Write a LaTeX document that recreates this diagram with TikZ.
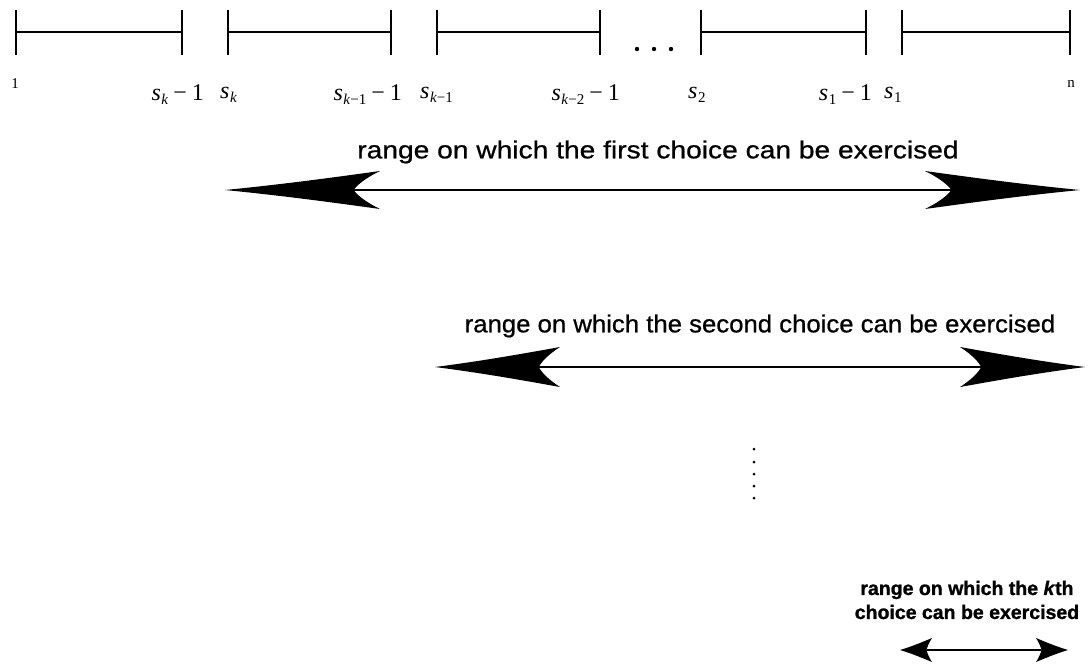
\documentclass[tikz,border=0pt]{standalone}
\usepackage{fontspec}
\setmainfont{Liberation Serif}
\newfontfamily\capsans[FakeStretch=1.15,FakeBold=0.8]{Liberation Sans}
\newfontfamily\capsansb[FakeStretch=1.05,FakeBold=0.8]{Liberation Sans}
\newfontfamily\heavysans[FakeBold=1.2]{Liberation Sans Bold}
\usetikzlibrary{arrows.meta}

% swept-back dart head: tip at the path end, barbs behind a concave notch
\pgfdeclarearrow{
  name = Dart,
  defaults = {length = 20pt, width = 8pt},
  parameters = {\the\pgfarrowlength,\the\pgfarrowwidth},
  setup code = {
    \pgfarrowssettipend{\pgfarrowlength}
    \pgfarrowssetbackend{0pt}
    \pgfarrowssetlineend{.17\pgfarrowlength}
    \pgfarrowssavethe\pgfarrowlength
    \pgfarrowssavethe\pgfarrowwidth
  },
  drawing code = {
    \pgfpathmoveto{\pgfpoint{\pgfarrowlength}{0pt}}
    \pgfpathcurveto{\pgfpoint{.6*\pgfarrowlength}{.16*\pgfarrowwidth}}{\pgfpoint{.25*\pgfarrowlength}{.36*\pgfarrowwidth}}{\pgfpoint{0pt}{.5*\pgfarrowwidth}}
    \pgfpathcurveto{\pgfpoint{.1*\pgfarrowlength}{.3*\pgfarrowwidth}}{\pgfpoint{.15*\pgfarrowlength}{.12*\pgfarrowwidth}}{\pgfpoint{.17*\pgfarrowlength}{0pt}}
    \pgfpathcurveto{\pgfpoint{.15*\pgfarrowlength}{-.12*\pgfarrowwidth}}{\pgfpoint{.1*\pgfarrowlength}{-.3*\pgfarrowwidth}}{\pgfpoint{0pt}{-.5*\pgfarrowwidth}}
    \pgfpathcurveto{\pgfpoint{.25*\pgfarrowlength}{-.36*\pgfarrowwidth}}{\pgfpoint{.6*\pgfarrowlength}{-.16*\pgfarrowwidth}}{\pgfpoint{\pgfarrowlength}{0pt}}
    \pgfpathclose
    \pgfusepathqfill
  }
}

% s with a lowered index
\newcommand{\sidx}[1]{\textit{s}\kern.5pt\raisebox{-.35ex}{\fontsize{15}{15}\selectfont #1}}
\newcommand{\mns}{\hspace{5pt}−\hspace{5pt}}

\begin{document}
\begin{tikzpicture}[x=1pt,y=-1pt,
  seg/.style={line width=1.6pt, arrows={Bar[width=45pt]-Bar[width=45pt]}},
  lbl/.style={inner sep=0pt, font=\fontsize{24}{24}\selectfont},
  endlbl/.style={inner sep=0pt, font=\fontsize{15}{15}\selectfont},
  rangetxt/.style={inner sep=0pt, align=center},
  rangeA/.style={line width=1.3pt, arrows={Dart[length=155pt,width=38pt]-Dart[length=155pt,width=38pt]}},
  rangeB/.style={line width=1.3pt, arrows={Dart[length=125pt,width=40pt]-Dart[length=125pt,width=40pt]}},
  rangeC/.style={line width=1.3pt, arrows={Dart[length=32pt,width=24pt]-Dart[length=32pt,width=24pt]}},
  dot/.style={fill=black, draw=none}
]
\useasboundingbox (0,0) rectangle (1090,665);

% interval end points
\coordinate (a1) at (15,32);   \coordinate (b1) at (183,32);
\coordinate (a2) at (227,32);  \coordinate (b2) at (392,32);
\coordinate (a3) at (436,32);  \coordinate (b3) at (601,32);
\coordinate (a4) at (700,32);  \coordinate (b4) at (867,32);
\coordinate (a5) at (901,32);  \coordinate (b5) at (1071,32);

\draw[seg] (a1) -- (b1);
\draw[seg] (a2) -- (b2);
\draw[seg] (a3) -- (b3);
\draw[seg] (a4) -- (b4);
\draw[seg] (a5) -- (b5);

% ellipsis between the intervals
\fill[dot] (637,49) circle (2.2pt);
\fill[dot] (654,49) circle (2.2pt);
\fill[dot] (671,49) circle (2.2pt);

% position labels
\node[endlbl] (l1) at (15,84) {1};
\node[endlbl] (ln) at (1071,84) {n};
\node[lbl, anchor=east] (lb1) at (204,95) {\sidx{\textit{k}}\mns 1};
\node[lbl, anchor=west] (la2) at (220,95) {\sidx{\textit{k}}};
\node[lbl, anchor=east] (lb2) at (402,95) {\sidx{\textit{k}−1}\mns 1};
\node[lbl, anchor=west] (la3) at (420,95) {\sidx{\textit{k}−1}};
\node[lbl, anchor=east] (lb3) at (620,95) {\sidx{\textit{k}−2}\mns 1};
\node[lbl, anchor=west] (la4) at (688,95) {\sidx{2}};
\node[lbl, anchor=east] (lb4) at (872,95) {\sidx{1}\mns 1};
\node[lbl, anchor=west] (la5) at (884,95) {\sidx{1}};

% first choice
\node[rangetxt, font=\capsans\fontsize{24.5}{26}\selectfont] (t1) at (658,152) {range on which the first choice can be exercised};
\coordinate (r1l) at (225,190);
\coordinate (r1r) at (1080,190);
\draw[rangeA] (r1l) -- (r1r);

% second choice
\node[rangetxt, font=\capsansb\fontsize{24.5}{26}\selectfont] (t2) at (760,326) {range on which the second choice can be exercised};
\coordinate (r2l) at (435,367);
\coordinate (r2r) at (1085,367);
\draw[rangeB] (r2l) -- (r2r);

% vertical ellipsis
\fill[dot] (754,449) circle (1.5pt);
\fill[dot] (754,462) circle (1.5pt);
\fill[dot] (754,474) circle (1.5pt);
\fill[dot] (754,486) circle (1.5pt);
\fill[dot] (754,498) circle (1.5pt);

% k-th choice
\node[rangetxt, font=\heavysans\fontsize{19.5}{24}\selectfont] (t3) at (967,600) {range on which the \textit{k}th\\choice can be exercised};
\coordinate (r3l) at (900,650);
\coordinate (r3r) at (1068,650);
\draw[rangeC] (r3l) -- (r3r);
\end{tikzpicture}
\end{document}
